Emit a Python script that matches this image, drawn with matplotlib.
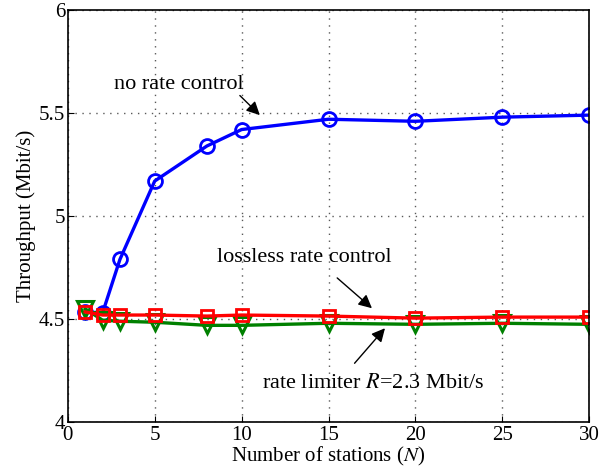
import numpy as np
import matplotlib.pyplot as plt

plt.rcParams['font.family'] = ['Liberation Serif', 'DejaVu Serif']
plt.rcParams['mathtext.fontset'] = 'stix'

# Data
stations = [1, 2, 3, 5, 8, 10, 15, 20, 25, 30]
no_rate_control = [4.535, 4.53, 4.79, 5.17, 5.34, 5.42, 5.47, 5.46, 5.48, 5.49]
lossless_control = [4.535, 4.52, 4.52, 4.52, 4.515, 4.52, 4.515, 4.505, 4.51, 4.51]
rate_limiter = [4.55, 4.495, 4.49, 4.485, 4.47, 4.47, 4.48, 4.475, 4.48, 4.475]

fig, ax = plt.subplots(figsize=(6.0, 4.76), dpi=100)

ax.plot(stations, no_rate_control, color='blue', lw=2.4, marker='o', ms=10,
        mfc='none', mew=2)
ax.plot(stations, rate_limiter, color='green', lw=2.4, marker='v', ms=12,
        mfc='none', mew=2.2)
ax.plot(stations, lossless_control, color='red', lw=2.4, marker='s', ms=8,
        mfc='none', mew=2)

ax.set_xlim(0, 30)
ax.set_ylim(4, 6)
ax.set_xticks([0, 5, 10, 15, 20, 25, 30])
ax.set_yticks([4, 4.5, 5, 5.5, 6])
ax.set_yticklabels(['4', '4.5', '5', '5.5', '6'])
ax.tick_params(direction='in', labelsize=15, length=4, pad=2)
ax.tick_params(axis='x', pad=3)
ax.grid(True, linestyle=(0, (1, 4)), color='0.35', lw=1)
for s in ax.spines.values():
    s.set_linewidth(1.2)

ax.set_xlabel('Number of stations ($N$)', fontsize=15, labelpad=0)
ax.set_ylabel('Throughput (Mbit/s)', fontsize=15, labelpad=2)

# annotation texts and arrows (tail -> tip)
arrow = dict(arrowstyle='-|>', color='black', lw=1, mutation_scale=20,
             shrinkA=0, shrinkB=0)
ax.text(6.4, 5.64, 'no rate control', fontsize=16, ha='center', va='center')
ax.annotate('', xy=(11.05, 5.49), xytext=(9.9, 5.585), arrowprops=arrow)
ax.text(13.6, 4.80, 'lossless rate control', fontsize=16, ha='center', va='center')
ax.annotate('', xy=(17.5, 4.553), xytext=(15.5, 4.70), arrowprops=arrow)
ax.text(17.6, 4.19, 'rate limiter $R$=2.3 Mbit/s', fontsize=16, ha='center', va='center')
ax.annotate('', xy=(18.25, 4.456), xytext=(16.5, 4.286), arrowprops=arrow)

fig.subplots_adjust(left=0.113, right=0.982, top=0.979, bottom=0.113)
fig.savefig('out.png')
